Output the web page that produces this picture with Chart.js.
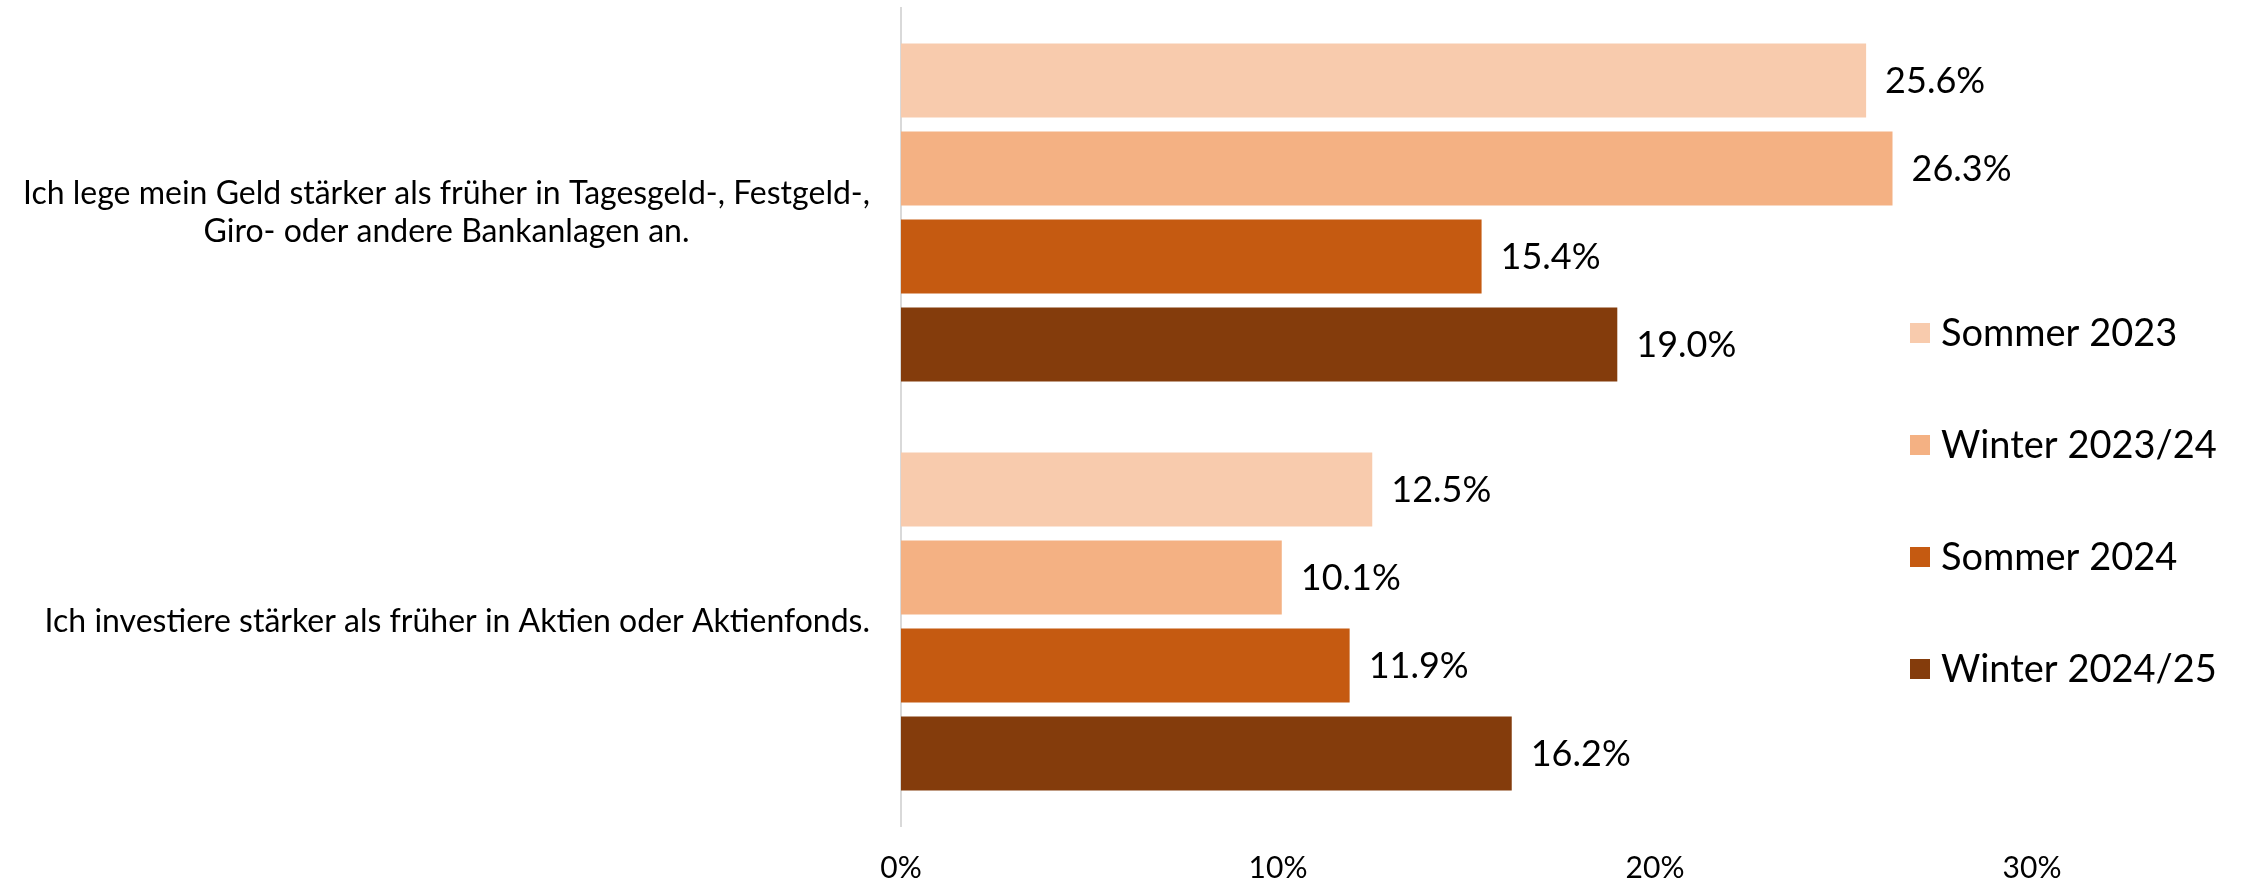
<!DOCTYPE html>
<html>
<head>
<meta charset="utf-8">
<script src="https://cdn.jsdelivr.net/npm/chart.js@4"></script>
<style>
  html, body { margin: 0; padding: 0; background: #fff; }
  #wrap { width: 2242px; height: 883px; }
</style>
</head>
<body>
<div id="wrap"><canvas id="chart" width="2242" height="883"></canvas></div>
<script>
// ─── Data ───────────────────────────────────────────────────
const categories = [
  ['Ich lege mein Geld stärker als früher in Tagesgeld-, Festgeld-,', 'Giro- oder andere Bankanlagen an.'],
  'Ich investiere stärker als früher in Aktien oder Aktienfonds.',
];
const seriesNames = ['Sommer 2023', 'Winter 2023/24', 'Sommer 2024', 'Winter 2024/25'];
const sommer2023 = [25.6, 12.5];
const winter2023 = [26.3, 10.1];
const sommer2024 = [15.4, 11.9];
const winter2024 = [19.0, 16.2];
const xTicks = [0, 10, 20, 30];

const COLORS = ['#F8CBAD', '#F4B183', '#C55A11', '#843C0C'];
const FONT = "Lato, 'Open Sans', sans-serif";

// category labels: each block right-aligned to the axis, its lines centred (Excel style)
const categoryLabels = {
  id: 'categoryLabels',
  afterDraw(chart) {
    const ctx = chart.ctx;
    const yScale = chart.scales.y;
    const right = yScale.right - 31;
    const lineH = 38;
    ctx.save();
    ctx.font = `32px ${FONT}`;
    ctx.fillStyle = '#000';
    ctx.textAlign = 'center';
    ctx.textBaseline = 'middle';
    chart.data.labels.forEach((label, i) => {
      const lines = Array.isArray(label) ? label : [label];
      const w = Math.max(...lines.map(l => ctx.measureText(l).width));
      const cx = right - w / 2;
      const cy = yScale.getPixelForTick(i);
      lines.forEach((l, k) => {
        ctx.fillText(l, cx, cy + (k - (lines.length - 1) / 2) * lineH);
      });
    });
    ctx.restore();
  },
};

// value labels at the bar ends
const valueLabels = {
  id: 'valueLabels',
  afterDatasetsDraw(chart) {
    const ctx = chart.ctx;
    ctx.save();
    ctx.font = `36px ${FONT}`;
    ctx.fillStyle = '#000';
    ctx.textAlign = 'left';
    ctx.textBaseline = 'middle';
    chart.data.datasets.forEach((ds, i) => {
      chart.getDatasetMeta(i).data.forEach((bar, j) => {
        ctx.fillText(ds.data[j].toFixed(1) + '%', bar.x + 19, bar.y + 1);
      });
    });
    ctx.restore();
  },
};

// legend stacked on the right, drawn over the plot area like the original
const sideLegend = {
  id: 'sideLegend',
  afterDraw(chart) {
    const ctx = chart.ctx;
    const x = 1910;
    const y0 = 333;
    const step = 112;
    ctx.save();
    ctx.font = `38px ${FONT}`;
    ctx.textAlign = 'left';
    ctx.textBaseline = 'middle';
    chart.data.datasets.forEach((ds, i) => {
      const y = y0 + i * step;
      ctx.fillStyle = ds.backgroundColor;
      ctx.fillRect(x, y - 10, 20, 20);
      ctx.fillStyle = '#000';
      ctx.fillText(ds.label, x + 31, y + 1);
    });
    ctx.restore();
  },
};

const seriesData = [sommer2023, winter2023, sommer2024, winter2024];

new Chart(document.getElementById('chart'), {
  type: 'bar',
  data: {
    labels: categories,
    datasets: seriesNames.map((name, i) => ({
      label: name,
      data: seriesData[i],
      backgroundColor: COLORS[i],
      borderWidth: 0,
      categoryPercentage: 0.861,
      barPercentage: 0.84,
    })),
  },
  options: {
    indexAxis: 'y',
    responsive: false,
    devicePixelRatio: 1,
    animation: false,
    events: [],
    layout: { padding: { top: 8, right: 210, bottom: 0, left: 0 } },
    plugins: {
      legend: { display: false },
      tooltip: { enabled: false },
    },
    scales: {
      x: {
        min: 0,
        max: 30,
        afterBuildTicks: (scale) => { scale.ticks = xTicks.map(v => ({ value: v })); },
        afterFit: (scale) => { scale.height = 57; scale.paddingLeft = 0; scale.paddingRight = 0; },
        grid: { display: false, drawTicks: false },
        border: { display: false },
        ticks: {
          padding: 24,
          color: '#000',
          maxRotation: 0,
          font: { size: 30, family: FONT, lineHeight: 1.2 },
          callback: (v) => v + '%',
        },
      },
      y: {
        afterFit: (scale) => { scale.width = 901; scale.paddingTop = 0; scale.paddingBottom = 0; },
        grid: { display: false, drawTicks: false },
        border: { display: true, color: '#D9D9D9', width: 2 },
        ticks: { display: false },
      },
    },
  },
  plugins: [valueLabels, categoryLabels, sideLegend],
});
</script>
</body>
</html>
